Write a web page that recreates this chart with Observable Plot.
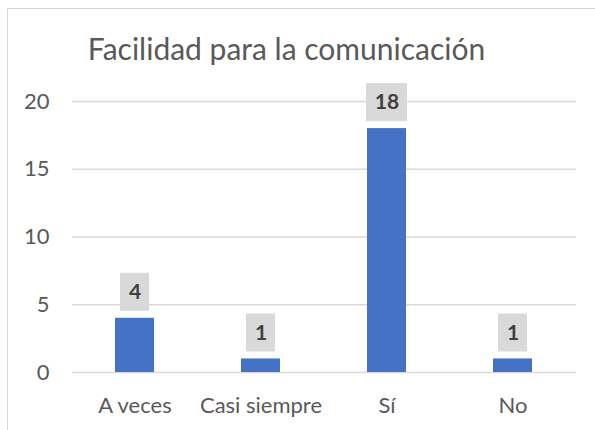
<!DOCTYPE html>
<html>
<head>
<meta charset="utf-8">
<script src="https://cdn.jsdelivr.net/npm/d3@7"></script>
<script src="https://cdn.jsdelivr.net/npm/@observablehq/plot@0.6"></script>
<style>
  html, body { margin: 0; padding: 0; background: #fff; }
  #wrap { position: relative; width: 595px; height: 430px; overflow: hidden; }
  #frame { position: absolute; left: 7px; top: 8px; width: 700px; height: 500px; border: 1.5px solid #d9d9d9; box-sizing: border-box; }
  #chart { position: absolute; left: 0; top: 0; }
</style>
</head>
<body>
<div id="wrap"><div id="frame"></div><div id="chart"></div></div>
<script>
const title = "Facilidad para la comunicación";
const categories = ["A veces", "Casi siempre", "Sí", "No"];
const values = [4, 1, 18, 1];
const yTicks = [0, 5, 10, 15, 20];

const data = categories.map((c, i) => ({category: c, value: values[i]}));
const font = "Lato, 'Open Sans', sans-serif";

const chart = Plot.plot({
  width: 595,
  height: 430,
  marginLeft: 72,
  marginRight: 19,
  marginTop: 101,
  marginBottom: 58,
  style: {fontFamily: font, fontSize: "22px", color: "#595959", background: "transparent"},
  x: {domain: categories, paddingInner: 0.69, paddingOuter: 0.345, label: null, tickSize: 0, tickPadding: 25},
  y: {domain: [0, 20], ticks: yTicks, label: null, tickSize: 0, tickPadding: 23},
  marks: [
    Plot.gridY(yTicks, {stroke: "#d9d9d9", strokeOpacity: 1, strokeWidth: 1.5}),
    Plot.barY(data, {x: "category", y: "value", fill: "#4472C4"}),
    Plot.text(data, {
      x: "category", y: "value", text: d => String(d.value),
      dy: -26, fontWeight: "bold", fontSize: 21, fill: "#404040"
    }),
    Plot.text([title], {frameAnchor: "top", lineAnchor: "middle", dx: -38, dy: -51, fontSize: 30, fill: "#595959", fontFamily: font})
  ]
});

// label boxes behind the data labels, positioned with the chart's scales
const xs = chart.scale("x"), ys = chart.scale("y");
const svg = d3.select(chart);
const labelG = svg.selectAll("g[aria-label='text']").filter((d, i) => i === 0);
const boxes = svg.insert("g", () => labelG.node());
data.forEach(d => {
  const cx = xs.apply(d.category) + xs.bandwidth / 2;
  const top = ys.apply(d.value);
  const w = String(d.value).length > 1 ? 41 : 29;
  boxes.append("rect")
    .attr("x", cx - w / 2).attr("y", top - 45)
    .attr("width", w).attr("height", 38)
    .attr("fill", "#d9d9d9");
});
document.getElementById("chart").appendChild(chart);
</script>
</body>
</html>
